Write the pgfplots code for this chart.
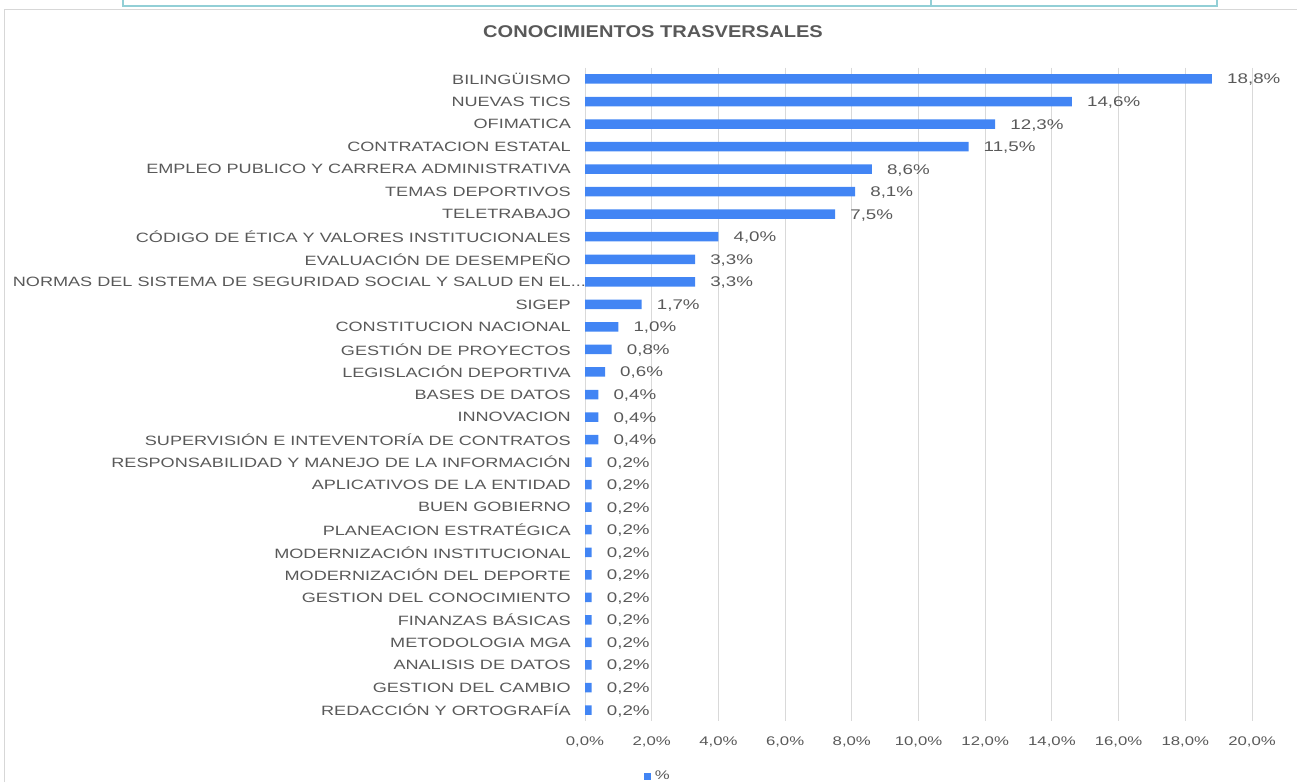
\documentclass[border=0pt]{standalone}
\usepackage{fontspec}
\setmainfont{Liberation Sans}
\newfontfamily\widefont[FakeStretch=1.34]{Liberation Sans}
\newfontfamily\titlefont[FakeStretch=1.18]{Liberation Sans}
\usepackage{pgfplots}
\pgfplotsset{compat=1.18}
\definecolor{barblue}{RGB}{66,133,244}
\definecolor{txtgray}{RGB}{89,89,89}
\definecolor{gridgray}{RGB}{217,217,217}
\definecolor{framegray}{RGB}{215,215,215}
\definecolor{boxteal}{RGB}{146,207,214}

\begin{document}
\begin{tikzpicture}
\useasboundingbox (0,0) rectangle (1297pt,782pt);
% frames around the chart
\draw[boxteal, line width=2pt] (123pt,782pt) -- (123pt,776pt) -- (1217pt,776pt) -- (1217pt,782pt);
\draw[boxteal, line width=1.5pt] (931pt,776pt) -- (931pt,782pt);
\draw[framegray, line width=1.2pt] (4.5pt,0pt) -- (4.5pt,772.5pt) -- (1297pt,772.5pt);
\node[font=\titlefont\bfseries\fontsize{17}{20}\selectfont, text=txtgray] at (653pt,750pt) {CONOCIMIENTOS TRASVERSALES};
\begin{axis}[
  at={(585pt,60.7pt)}, anchor=south west,
  scale only axis, width=667pt, height=653.6pt,
  xbar, bar width=9.5pt,
  xmin=0, xmax=20, ymin=-0.5, ymax=28.5, y dir=reverse,
  axis line style={draw=none},
  xmajorgrids, major grid style={draw=gridgray, line width=1pt},
  major tick length=0pt,
  xtick={0,2,...,20},
  xticklabel={\pgfmathprintnumber[fixed,fixed zerofill,precision=1,use comma]{\tick}\%},
  xticklabel style={inner sep=0pt, yshift=-15pt, font=\widefont\fontsize{12.5}{14}\selectfont},
  ytick={0,...,28},
  yticklabels={BILINGÜISMO,NUEVAS TICS,OFIMATICA,CONTRATACION ESTATAL,EMPLEO PUBLICO Y CARRERA ADMINISTRATIVA,TEMAS DEPORTIVOS,TELETRABAJO,CÓDIGO DE ÉTICA Y VALORES INSTITUCIONALES,EVALUACIÓN DE DESEMPEÑO,NORMAS DEL SISTEMA DE SEGURIDAD SOCIAL Y SALUD EN EL\rlap{...},SIGEP,CONSTITUCION NACIONAL,GESTIÓN DE PROYECTOS,LEGISLACIÓN DEPORTIVA,BASES DE DATOS,INNOVACION,SUPERVISIÓN E INTEVENTORÍA DE CONTRATOS,RESPONSABILIDAD Y MANEJO DE LA INFORMACIÓN,APLICATIVOS DE LA ENTIDAD,BUEN GOBIERNO,PLANEACION ESTRATÉGICA,MODERNIZACIÓN INSTITUCIONAL,MODERNIZACIÓN DEL DEPORTE,GESTION DEL CONOCIMIENTO,FINANZAS BÁSICAS,METODOLOGIA MGA,ANALISIS DE DATOS,GESTION DEL CAMBIO,REDACCIÓN Y ORTOGRAFÍA},
  yticklabel style={inner sep=0pt, xshift=-14pt, font=\widefont\fontsize{13.5}{15}\selectfont},
  tick label style={text=txtgray},
  /pgf/number format/assume math mode=true,
  point meta=x,
  nodes near coords={\pgfmathprintnumber[fixed,fixed zerofill,precision=1,use comma]{\pgfplotspointmeta}\%},
  nodes near coords style={anchor=west, inner sep=0pt, xshift=15pt, yshift=-1pt, font=\widefont\fontsize{14}{16}\selectfont, text=txtgray},
  legend style={at={(axis description cs:0.088,-0.084)}, anchor=west, draw=none, fill=none, inner sep=0pt,
    nodes={inner xsep=4pt}, font=\widefont\fontsize{12.5}{14}\selectfont, text=txtgray},
  legend image code/.code={\fill[barblue] (0pt,-3.5pt) rectangle (7pt,3.5pt);},
]
\addplot[fill=barblue, draw=none] coordinates {
(18.8,0) (14.6,1) (12.3,2) (11.5,3) (8.6,4) (8.1,5) (7.5,6) (4.0,7) (3.3,8) (3.3,9)
(1.7,10) (1.0,11) (0.8,12) (0.6,13) (0.4,14) (0.4,15) (0.4,16) (0.2,17) (0.2,18) (0.2,19)
(0.2,20) (0.2,21) (0.2,22) (0.2,23) (0.2,24) (0.2,25) (0.2,26) (0.2,27) (0.2,28)};
\legend{\%}
\end{axis}
\end{tikzpicture}
\end{document}
